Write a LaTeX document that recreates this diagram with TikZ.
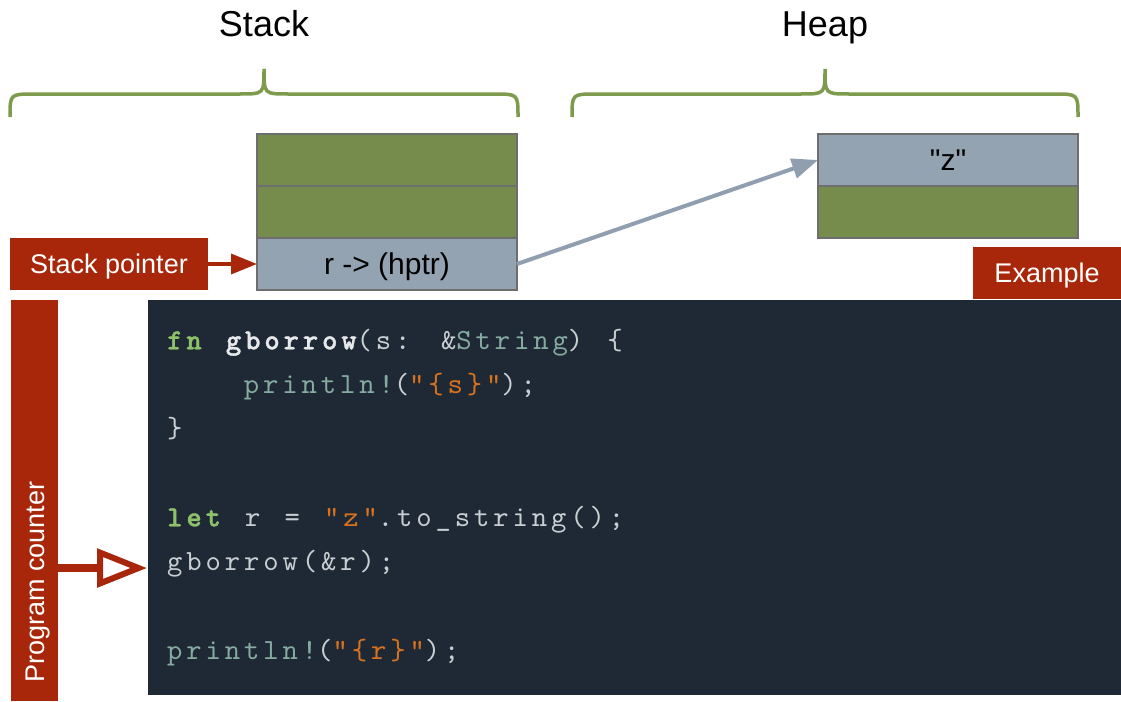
\documentclass[tikz,border=0pt]{standalone}
\usepackage{fontspec}
\setmainfont{Liberation Sans}[Ligatures=TeXOff]
\newfontfamily\codefont{lmmono10-regular.otf}[BoldFont=lmmonolt10-bold.otf, Ligatures=TeXOff,
  LetterSpace=13.4, WordSpace=1.255, BoldFeatures={FakeBold=1.2}]
\usetikzlibrary{positioning,arrows.meta}

\definecolor{redbox}{HTML}{A8270A}
\definecolor{codebg}{HTML}{1E2935}
\definecolor{stackgreen}{HTML}{768C4C}
\definecolor{ptrblue}{HTML}{94A3B2}
\definecolor{cellborder}{HTML}{6E6E6E}
\definecolor{bracegreen}{HTML}{7D9A4D}
\definecolor{arrowgray}{HTML}{8F9FAF}
\definecolor{codefg}{HTML}{C9CED3}
\definecolor{codekw}{HTML}{8DC26B}
\definecolor{codemac}{HTML}{86ABA0}
\definecolor{codestr}{HTML}{D8721F}
\definecolor{codefn}{HTML}{E6E8EA}

\newcommand{\dq}{{\char34}}
\newcommand{\kwd}[1]{{\bfseries\color{codekw}#1}}
\newcommand{\fnname}[1]{{\bfseries\color{codefn}#1}}
\newcommand{\macr}[1]{{\color{codemac}#1}}
\newcommand{\strg}[1]{{\color{codestr}#1}}

\tikzset{
  title/.style={anchor=base, inner sep=0pt, font=\fontsize{36}{43}\selectfont},
  cell/.style={draw=cellborder, line width=1.5pt, outer sep=0pt, minimum width=260, minimum height=52,
    text height=21.5pt, text depth=0pt, font=\fontsize{30}{36}\selectfont},
  greencell/.style={cell, fill=stackgreen},
  bluecell/.style={cell, fill=ptrblue},
  redlabel/.style={fill=redbox, text=white, inner sep=0pt, text height=19.4pt, text depth=0pt,
    font=\fontsize{27}{32}\selectfont},
  codeline/.style={anchor=base west, inner sep=0pt, text=codefg, font=\codefont\fontsize{29.2}{35}\selectfont},
  brace/.style={draw=bracegreen, line width=3.5pt},
  sparrow/.style={draw=redbox, line width=3.5pt, -{Triangle[length=26pt,width=20pt]}},
  ptrarrow/.style={draw=arrowgray, line width=4pt, -{Triangle[length=26pt,width=20pt]}},
  pcarrow/.style={draw=redbox, line width=8pt, -{Triangle[open, fill=white, line width=6pt, length=50pt, width=38pt]}}
}

\begin{document}
\begin{tikzpicture}[x=1pt,y=-1pt]
  \useasboundingbox (0,0) rectangle (1121,701);

  % braces over stack and heap
  \foreach \l/\m/\r in {10/264/518, 572/825/1078}{
    \draw[brace] (\l,117) .. controls (\l,94) .. (\l+24,94) -- (\m-24,94)
      .. controls (\m,94) .. (\m,69) .. controls (\m,94) .. (\m+24,94)
      -- (\r-24,94) .. controls (\r,94) .. (\r,117);
  }
  \node[title] (stk) at (264,37) {Stack};
  \node[title] (hp) at (825,37) {Heap};

  % stack frame
  \node[greencell] (s1) at (387,160) {};
  \node[greencell, below=0pt of s1] (s2) {};
  \node[bluecell, below=0pt of s2] (s3) {r -> (hptr)};

  % heap
  \node[bluecell] (h1) at (948,160) {\dq z\dq};
  \node[greencell, below=0pt of h1] (h2) {};

  \node[redlabel, minimum width=198, minimum height=52] (sp) at (109,264) {Stack pointer};
  \node[redlabel, minimum width=148, minimum height=52] (ex) at (1047,273) {Example};

  \draw[sparrow] (sp) -- (s3);
  \draw[ptrarrow] (s3.east) -- (h1.west);

  % code panel
  \node[fill=codebg, inner sep=0pt, minimum width=973, minimum height=395, anchor=north west] (code) at (148,300) {};
  \node[codeline] (l1) at (167,349.3) {\kwd{fn} \fnname{gborrow}(s: \&\macr{String}) \{};
  \node[codeline] (l2) at (243.6,393.5) {\macr{println!}(\strg{\dq\{s\}\dq});};
  \node[codeline] (l3) at (167,437.8) {\}};
  \node[codeline] (l5) at (167,526.3) {\kwd{let} r = \strg{\dq z\dq}.to\_string();};
  \node[codeline] (l6) at (167,570.5) {gborrow(\&r);};
  \node[codeline] (l8) at (167,659) {\macr{println!}(\strg{\dq\{r\}\dq});};

  % program counter
  \node[fill=redbox, inner sep=0pt, minimum width=47, minimum height=401, anchor=north west] (pcbox) at (11,300) {};
  \node[redlabel, fill=none, rotate=90] (pctext) at (34.5,582) {Program counter};
  \coordinate (pchit) at (147,568);
  \draw[pcarrow] (pcbox.east |- pchit) -- (pchit);
\end{tikzpicture}
\end{document}
